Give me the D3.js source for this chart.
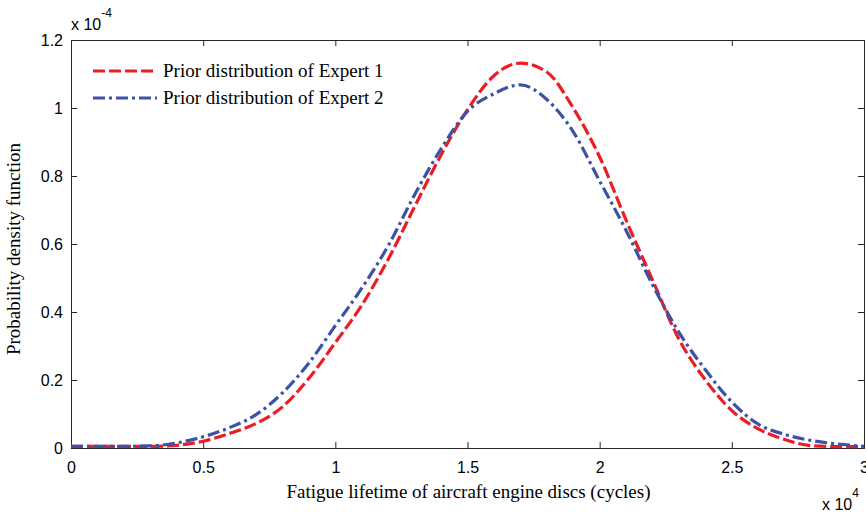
<!DOCTYPE html>
<html>
<head>
<meta charset="utf-8">
<script src="https://cdn.jsdelivr.net/npm/d3@7"></script>
<style>
  body { margin: 0; background: #fff; }
  svg { display: block; }
  .tick text { font-family: "Liberation Sans", Arial, sans-serif; font-size: 16px; fill: #000; }
  .serif { font-family: "Liberation Serif", "Times New Roman", serif; font-size: 19px; fill: #000; }
  .sans { font-family: "Liberation Sans", Arial, sans-serif; fill: #000; }
</style>
</head>
<body>
<div id="chart"></div>
<script>
// lifetime in units of 1e4 cycles
const lifetimes = [0, 0.1, 0.2, 0.3, 0.4, 0.5, 0.6, 0.7, 0.8, 0.9, 1.0,
  1.1, 1.2, 1.3, 1.4, 1.5, 1.6, 1.7, 1.8, 1.9, 2.0,
  2.1, 2.2, 2.3, 2.4, 2.5, 2.6, 2.7, 2.8, 2.9, 3.0];

// pdf values in units of 1e-4
const expert1 = [0.005, 0.005, 0.005, 0.005, 0.008, 0.02, 0.043, 0.072, 0.121, 0.205, 0.31,
  0.42, 0.555, 0.71, 0.862, 0.995, 1.095, 1.132, 1.106, 1.0, 0.856,
  0.67, 0.494, 0.32, 0.2, 0.11, 0.056, 0.025, 0.007, 0.004, 0.004];

const expert2 = [0.005, 0.005, 0.005, 0.006, 0.015, 0.033, 0.06, 0.098, 0.162, 0.25, 0.36,
  0.47, 0.595, 0.745, 0.88, 0.99, 1.042, 1.068, 1.025, 0.93, 0.785,
  0.64, 0.48, 0.34, 0.23, 0.135, 0.07, 0.04, 0.022, 0.012, 0.005];

const seriesNames = ["Prior distribution of Expert 1", "Prior distribution of Expert 2"];
const xTicks = [0, 0.5, 1, 1.5, 2, 2.5, 3];
const yTicks = [0, 0.2, 0.4, 0.6, 0.8, 1, 1.2];

const W = 866, H = 517;
const margin = { top: 40, right: 2, bottom: 69, left: 71 };
const width = W - margin.left - margin.right;
const height = H - margin.top - margin.bottom;

const svg = d3.select("#chart").append("svg")
  .attr("width", W).attr("height", H);

const g = svg.append("g")
  .attr("transform", `translate(${margin.left},${margin.top})`);

const x = d3.scaleLinear().domain([0, 3]).range([0, width]);
const y = d3.scaleLinear().domain([0, 1.2]).range([height, 0]);

const axisColor = "#262626";

// --- axes (MATLAB style, ticks inside) ---
const xAxis = g.append("g")
  .attr("transform", `translate(0,${height})`)
  .call(d3.axisBottom(x).tickValues(xTicks).tickSize(-6).tickPadding(14)
    .tickFormat(d => d));
const yAxis = g.append("g")
  .call(d3.axisLeft(y).tickValues(yTicks).tickSize(-6).tickPadding(8)
    .tickFormat(d => d));
const xTop = g.append("g")
  .call(d3.axisTop(x).tickValues(xTicks).tickSize(-6).tickFormat(""));
const yRight = g.append("g")
  .attr("transform", `translate(${width},0)`)
  .call(d3.axisRight(y).tickValues(yTicks).tickSize(-6).tickFormat(""));

[xAxis, yAxis, xTop, yRight].forEach(a => {
  a.selectAll("path").attr("stroke", axisColor).attr("stroke-width", 1);
  a.selectAll("line").attr("stroke", axisColor);
});

// --- curves ---
const line = vals => d3.line()
  .x((d, i) => x(lifetimes[i]))
  .y(d => y(d))
  .curve(d3.curveMonotoneX)(vals);

const styles = [
  { color: "#ec1c24", dash: "12,4" },
  { color: "#3a53a4", dash: "12,4,3,4" }
];

[expert1, expert2].forEach((vals, i) => {
  g.append("path")
    .attr("d", line(vals))
    .attr("fill", "none")
    .attr("stroke", styles[i].color)
    .attr("stroke-width", 3.2)
    .attr("stroke-dasharray", styles[i].dash);
});

// --- legend ---
seriesNames.forEach((name, i) => {
  const ly = 31 + i * 27;
  g.append("line")
    .attr("x1", 22).attr("x2", 86)
    .attr("y1", ly).attr("y2", ly)
    .attr("stroke", styles[i].color)
    .attr("stroke-width", 3.2)
    .attr("stroke-dasharray", styles[i].dash);
  g.append("text")
    .attr("class", "serif")
    .attr("x", 92).attr("y", ly + 6)
    .text(name);
});

// --- axis labels ---
svg.append("text")
  .attr("class", "serif")
  .attr("x", margin.left + width / 2 + 1).attr("y", 498)
  .attr("text-anchor", "middle")
  .text("Fatigue lifetime of aircraft engine discs (cycles)");

svg.append("text")
  .attr("class", "serif")
  .attr("transform", "rotate(-90)")
  .attr("x", -249).attr("y", 20)
  .attr("text-anchor", "middle")
  .text("Probability density function");

// --- exponent labels ---
const yExp = svg.append("text").attr("class", "sans").attr("x", 71).attr("y", 30)
  .style("font-size", "16px");
yExp.append("tspan").text("x 10");
yExp.append("tspan").attr("dy", -13).style("font-size", "12px").text("-4");

const xExp = svg.append("text").attr("class", "sans").attr("x", 822).attr("y", 510)
  .style("font-size", "16px");
xExp.append("tspan").text("x 10");
xExp.append("tspan").attr("dy", -13).style("font-size", "12px").text("4");
</script>
</body>
</html>
